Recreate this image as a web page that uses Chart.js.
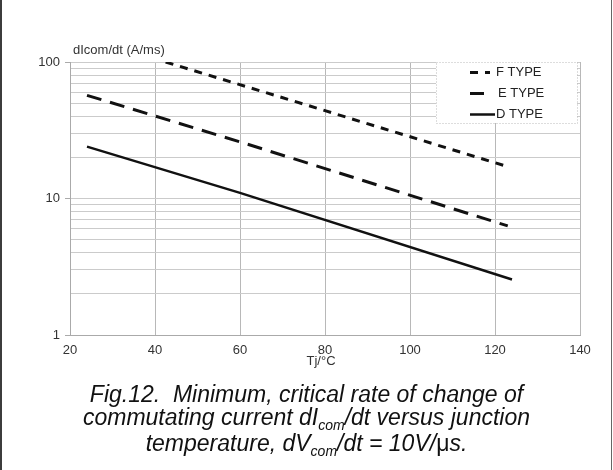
<!DOCTYPE html>
<html>
<head>
<meta charset="utf-8">
<script src="https://cdn.jsdelivr.net/npm/chart.js@4.4.0/dist/chart.umd.min.js"></script>
<style>
  body { margin: 0; background: #fff; }
  #pagina { position: relative; width: 613px; height: 470px; background: #fff; overflow: hidden; }
  #caixa { position: absolute; left: 0; top: 0; width: 613px; height: 375px; }
  .borda-esq { position: absolute; left: 0; top: 0; width: 2px; height: 470px; background: #3c3c3c; }
  .borda-dir { position: absolute; left: 611px; top: 0; width: 1px; height: 470px; background: #666; }
  #legenda-fig { position: absolute; left: 0; top: 383px; width: 613px; text-align: center;
    font: italic 23px "Liberation Sans", Arial, sans-serif; line-height: 23px; color: #111; }
  .sub { font-size: 14px; position: relative; top: 5px; }
  .mu { font-style: normal; }
</style>
</head>
<body>
<div id="pagina">
  <div id="caixa"><canvas id="graficoDidt"></canvas></div>
  <div class="borda-esq"></div>
  <div class="borda-dir"></div>
  <div id="legenda-fig">
    Fig.12.&nbsp; Minimum, critical rate of change of<br>
    commutating current dI<span class="sub">com</span>/dt versus junction<br>
    temperature, dV<span class="sub">com</span>/dt = 10V/<span class="mu">μ</span>s.
  </div>
</div>
<script>
// dados (Tj em °C, dIcom/dt em A/ms)
const temperaturasF = [42.5, 80, 122]
const valoresF = [100, 44, 17.5]
const temperaturasE = [24, 60, 123]
const valoresE = [57, 26, 6.3]
const temperaturasD = [24, 60, 124]
const valoresD = [24, 11, 2.55]

// ticks dos eixos
const ticksX = [20, 40, 60, 80, 100, 120, 140]
const gradeY = [1, 2, 3, 4, 5, 6, 7, 8, 9, 10, 20, 30, 40, 50, 60, 70, 80, 90, 100]
const rotulosY = [1, 10, 100]

const fonteEixo = { family: "'Liberation Sans', Arial, sans-serif", size: 13 }

function montaPontos(xs, ys) {
  return xs.map((x, i) => ({ x: x, y: ys[i] }))
}

// legenda dentro da area do grafico, com borda pontilhada
const legendaCaixa = {
  id: 'legendaCaixa',
  afterDraw(grafico) {
    const c = grafico.ctx
    const area = grafico.chartArea
    const esq = 436, topo = area.top, dir = area.right - 3, base = 123
    c.save()
    c.fillStyle = '#fff'
    c.fillRect(esq, topo, dir - esq, base - topo)
    c.strokeStyle = '#bbb'
    c.lineWidth = 1
    c.setLineDash([1, 2])
    c.strokeRect(esq + 0.5, topo + 0.5, dir - esq, base - topo)
    c.font = "13px 'Liberation Sans', Arial, sans-serif"
    c.textBaseline = 'middle'
    grafico.data.datasets.forEach((ds, i) => {
      const y = 72.5 + i * 21
      c.strokeStyle = ds.borderColor
      c.lineWidth = ds.borderWidth
      c.setLineDash(ds.borderDash || [])
      c.beginPath()
      c.moveTo(470, y)
      c.lineTo(470 + ds.amostra, y)
      c.stroke()
      c.fillStyle = '#222'
      c.fillText(ds.label, i == 1 ? 498 : 496, y)
    })
    c.restore()
  }
}

// titulos dos eixos
const titulosEixos = {
  id: 'titulosEixos',
  afterDraw(grafico) {
    const c = grafico.ctx
    c.save()
    c.fillStyle = '#333'
    c.font = "13px 'Liberation Sans', Arial, sans-serif"
    c.textBaseline = 'middle'
    c.textAlign = 'left'
    c.fillText('dIcom/dt (A/ms)', 73, 50)
    c.textAlign = 'center'
    c.fillText('Tj/°C', 321, 361)
    c.restore()
  }
}

const graficoDidt = new Chart(document.getElementById('graficoDidt'), {
  type: 'scatter',
  data: {
    datasets: [
      { label: 'F TYPE', data: montaPontos(temperaturasF, valoresF), showLine: true, amostra: 20,
        borderColor: '#111', borderWidth: 3, borderDash: [8, 7], pointRadius: 0 },
      { label: 'E TYPE', data: montaPontos(temperaturasE, valoresE), showLine: true, amostra: 14,
        borderColor: '#111', borderWidth: 3, borderDash: [15, 9], pointRadius: 0 },
      { label: 'D TYPE', data: montaPontos(temperaturasD, valoresD), showLine: true, amostra: 25,
        borderColor: '#111', borderWidth: 2.5, pointRadius: 0 },
    ],
  },
  options: {
    responsive: true,
    maintainAspectRatio: false,
    animation: false,
    layout: { padding: { left: 0, right: 33, top: 62, bottom: 0 } },
    plugins: { legend: { display: false }, tooltip: { enabled: false } },
    scales: {
      x: {
        type: 'linear', min: 20, max: 140,
        afterBuildTicks: s => { s.ticks = ticksX.map(v => ({ value: v })) },
        afterFit: s => { s.height = 40 },
        ticks: { color: '#333', font: fonteEixo, padding: 8, autoSkip: false, maxRotation: 0 },
        grid: { color: '#b8b8b8', drawTicks: false },
        border: { color: '#aaa' },
      },
      y: {
        type: 'logarithmic', min: 1, max: 100,
        afterBuildTicks: s => { s.ticks = gradeY.map(v => ({ value: v })) },
        afterFit: s => { s.width = 70 },
        ticks: {
          color: '#333', font: fonteEixo, padding: 5, autoSkip: false,
          callback: v => rotulosY.includes(v) ? String(v) : '',
        },
        grid: {
          color: '#cbcbcb', tickLength: 5,
          tickColor: ctx => rotulosY.includes(ctx.tick.value) ? '#aaa' : 'rgba(0,0,0,0)',
        },
        border: { color: '#aaa' },
      },
    },
  },
  plugins: [legendaCaixa, titulosEixos],
})
</script>
</body>
</html>
